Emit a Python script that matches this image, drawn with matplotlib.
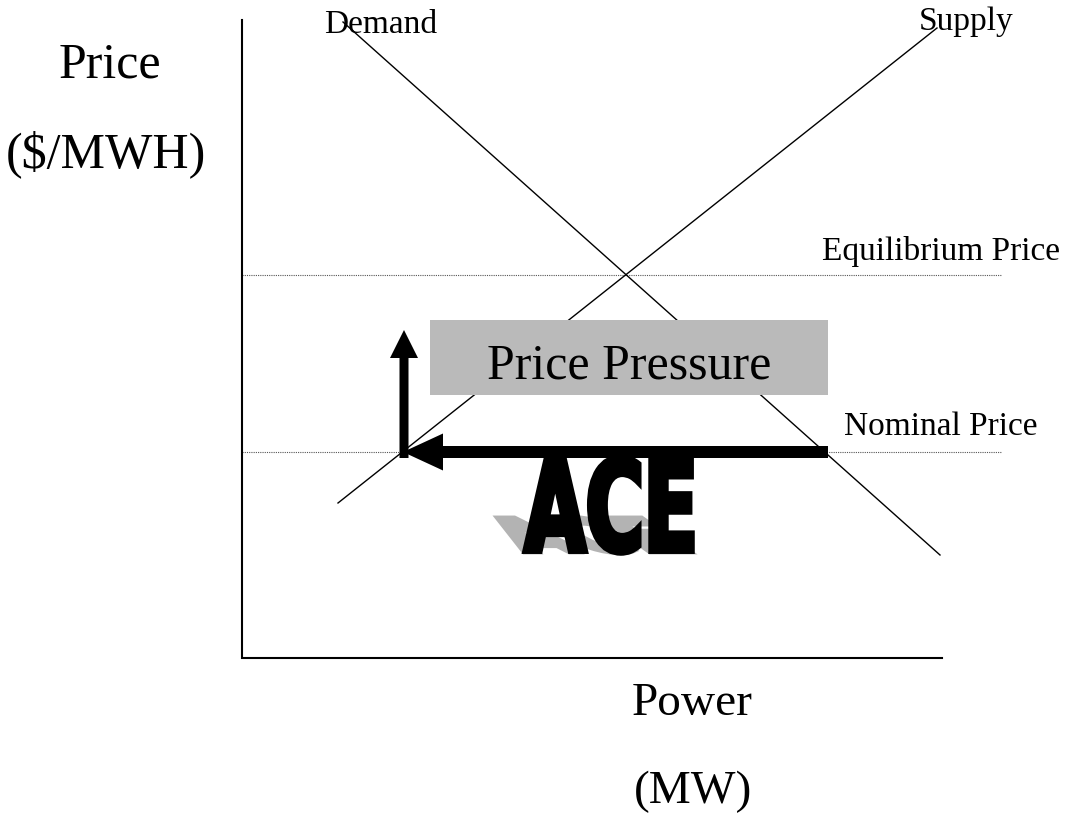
import numpy as np
import matplotlib
matplotlib.use("Agg")
import matplotlib.pyplot as plt
from matplotlib.textpath import TextPath
from matplotlib.font_manager import FontProperties
from matplotlib.path import Path
from matplotlib.patches import PathPatch, FancyArrow, Rectangle

# diagram geometry (pixel space of the slide, y grows downward)
axis_x = [242, 242, 942]
axis_y = [20, 658, 658]
demand_x = [343, 940]
demand_y = [22, 555]
supply_x = [338, 937]
supply_y = [503, 28]
equilibrium_price = 275
nominal_price = 452
price_line_x = [242, 1002]
pressure_box = [430, 320, 398, 75]   # x, y, w, h
ace_box = [525, 457, 167, 96]        # left, top, width, height

serif = "Liberation Serif"

fig = plt.figure(figsize=(10.68, 8.17), dpi=100)
ax = fig.add_axes([0, 0, 1, 1])
ax.set_xlim(0, 1068)
ax.set_ylim(817, 0)
ax.axis("off")

# axes of the diagram
ax.plot(axis_x, axis_y, color="black", lw=1.5, solid_joinstyle="miter", zorder=2)

# demand / supply curves
ax.plot(demand_x, demand_y, color="black", lw=1.0, zorder=2)
ax.plot(supply_x, supply_y, color="black", lw=1.0, zorder=2)

# price levels
for yp in (equilibrium_price, nominal_price):
    ax.plot(price_line_x, [yp, yp], color="#555555", lw=0.8,
            linestyle=(0, (1, 1)), zorder=1)

# price pressure box
bx, by, bw, bh = pressure_box
ax.add_patch(Rectangle((bx, by), bw, bh, facecolor="#bababa", edgecolor="none", zorder=3))
ax.text(bx + bw / 2, 378, "Price Pressure", fontsize=36, family=serif,
        ha="center", va="baseline", zorder=4)

# arrows
ax.add_patch(FancyArrow(828, nominal_price, 403 - 828, 0, width=12, head_width=37,
                        head_length=40, length_includes_head=True,
                        color="black", lw=0, zorder=5))
ax.add_patch(FancyArrow(404, 458, 0, 330 - 458, width=9, head_width=28,
                        head_length=28, length_includes_head=True,
                        color="black", lw=0, zorder=5))

# ACE word art with cast shadow
tp = TextPath((0, 0), "ACE", size=100, prop=FontProperties(family="DejaVu Sans", weight="bold"))
bb = tp.get_extents()
u = (tp.vertices[:, 0] - bb.x0) / bb.width
v = (tp.vertices[:, 1] - bb.y0) / bb.height
left, top, w, h = ace_box
bottom = top + h
sh_h = 36
shadow = Path(np.column_stack([left + u * w - 1.4 * v * sh_h, bottom - v * sh_h]), tp.codes)
ax.add_patch(PathPatch(shadow, facecolor="#b3b3b3", edgecolor="#b3b3b3", lw=3,
                       joinstyle="miter", zorder=4))
main = Path(np.column_stack([left + u * w, bottom - v * h]), tp.codes)
ax.add_patch(PathPatch(main, facecolor="black", edgecolor="black", lw=4,
                       joinstyle="miter", zorder=6))

# labels
ax.text(110, 77, "Price", fontsize=36, family=serif, ha="center", va="baseline")
ax.text(106, 167, "($/MWH)", fontsize=36, family=serif, ha="center", va="baseline")
ax.text(692, 715, "Power", fontsize=34, family=serif, ha="center", va="baseline")
ax.text(693, 803, "(MW)", fontsize=34, family=serif, ha="center", va="baseline")
ax.text(381, 33, "Demand", fontsize=24, family=serif, ha="center", va="baseline")
ax.text(966, 30, "Supply", fontsize=24, family=serif, ha="center", va="baseline")
ax.text(941, 260, "Equilibrium Price", fontsize=24, family=serif, ha="center", va="baseline")
ax.text(941, 435, "Nominal Price", fontsize=24, family=serif, ha="center", va="baseline")

fig.savefig("out.png", dpi=100, facecolor="white")
